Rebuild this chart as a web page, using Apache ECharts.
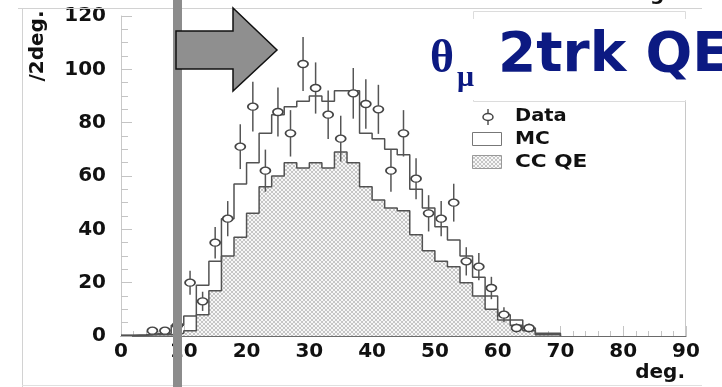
<!DOCTYPE html>
<html>
<head>
<meta charset="utf-8">
<script src="https://cdn.jsdelivr.net/npm/echarts@6/dist/echarts.min.js"></script>
<style>
  html, body { margin: 0; padding: 0; background: #fff; }
  #chart { width: 722px; height: 387px; }
</style>
</head>
<body>
<div id="chart"></div>
<script>
// Muon polar angle, 2-track QE sample: 2-degree bins from 0 to 70 deg
const binEdges = [0, 2, 4, 6, 8, 10, 12, 14, 16, 18, 20, 22, 24, 26, 28, 30, 32, 34,
  36, 38, 40, 42, 44, 46, 48, 50, 52, 54, 56, 58, 60, 62, 64, 66, 68, 70];

// Monte Carlo total (one value per bin)
const mcCounts = [0.3, 0.5, 0.8, 1, 4, 7.5, 19, 28, 44, 57, 65, 76, 83, 86, 88, 90, 88,
  92, 92, 76, 74, 70, 68, 55, 48, 41, 36, 30, 22, 15, 8, 6, 3, 1, 1];

// CC QE component of the Monte Carlo (one value per bin)
const ccqeCounts = [0.2, 0.3, 0.5, 0.5, 1, 2, 8, 17, 30, 37, 46, 56, 60, 65, 63, 65, 63,
  69, 65, 56, 51, 48, 47, 38, 32, 28, 26, 20, 15, 10, 6, 4, 2, 0.5, 0.5];

// Measured events at bin centres, with their statistical errors
const dataAngles = [5, 7, 9, 11, 13, 15, 17, 19, 21, 23, 25, 27, 29, 31, 33, 35, 37, 39,
  41, 43, 45, 47, 49, 51, 53, 55, 57, 59, 61, 63, 65];
const dataCounts = [2, 2, 4, 20, 13, 35, 44, 71, 86, 62, 84, 76, 102, 93, 83, 74, 91, 87,
  85, 62, 76, 59, 46, 44, 50, 28, 26, 18, 8, 3, 3];
const dataErrors = [1.4, 1.4, 2, 4.5, 3.6, 5.9, 6.6, 8.4, 9.3, 7.9, 9.2, 8.7, 10.1, 9.6,
  9.1, 8.6, 9.5, 9.3, 9.2, 7.9, 8.7, 7.7, 6.8, 6.6, 7.1, 5.3, 5.1, 4.2, 2.8, 1.7, 1.7];

// Axis ranges
const xRange = [0, 90];
const xStep = 10;
const yRange = [0, 120];
const yStep = 20;

// step-histogram points: left edge of each bin, closing at zero after the last bin
function stepPoints(counts) {
  return binEdges.map((e, i) => [e, i < counts.length ? counts[i] : 0]);
}

// fine cross-hatch used for the CC QE fill
function crossHatch() {
  const c = document.createElement('canvas');
  c.width = 4; c.height = 4;
  const g = c.getContext('2d');
  g.fillStyle = '#f7f7f7';
  g.fillRect(0, 0, 4, 4);
  g.strokeStyle = '#c6c6c6';
  g.lineWidth = 1;
  g.beginPath();
  g.moveTo(0, 0); g.lineTo(4, 4);
  g.moveTo(4, 0); g.lineTo(0, 4);
  g.stroke();
  return c;
}
const hatch = { image: crossHatch(), repeat: 'repeat' };

const FONT = 'DejaVu Sans';
const histLine = '#525252';

const chart = echarts.init(document.getElementById('chart'), null, { renderer: 'canvas' });

chart.setOption({
  animation: false,
  backgroundColor: '#fff',
  grid: { left: 121, top: 16, width: 565, height: 320 },
  xAxis: {
    type: 'value', min: xRange[0], max: xRange[1], interval: xStep,
    axisLine: { show: true, onZero: false, lineStyle: { color: '#6a6a6a', width: 1.2 } },
    axisTick: { show: true, inside: true, length: 10, lineStyle: { color: '#c4c4c4' } },
    minorTick: { show: true, splitNumber: 5, length: 5, lineStyle: { color: '#c4c4c4' } },
    splitLine: { show: false },
    axisLabel: { margin: 6, color: '#111', fontFamily: FONT, fontWeight: 'bold', fontSize: 20 }
  },
  yAxis: {
    type: 'value', min: yRange[0], max: yRange[1], interval: yStep,
    axisLine: { show: true, lineStyle: { color: '#c8c8c8', width: 1 } },
    axisTick: { show: true, inside: true, length: 11, lineStyle: { color: '#c4c4c4' } },
    minorTick: { show: true, splitNumber: 4, length: 7, lineStyle: { color: '#c4c4c4' } },
    splitLine: { show: false },
    axisLabel: { margin: 15, color: '#111', fontFamily: FONT, fontWeight: 'bold', fontSize: 20 }
  },
  series: [
    {
      name: 'CC QE', type: 'line', step: 'end', symbol: 'none',
      data: stepPoints(ccqeCounts),
      lineStyle: { color: histLine, width: 1.5 },
      areaStyle: { color: hatch, opacity: 1 },
      z: 2
    },
    {
      name: 'MC', type: 'line', step: 'end', symbol: 'none',
      data: stepPoints(mcCounts),
      lineStyle: { color: histLine, width: 1.5 },
      z: 3
    },
    {
      name: 'Data errors', type: 'custom',
      data: dataAngles.map((a, i) => [a, dataCounts[i], dataErrors[i]]),
      encode: { x: 0, y: 1 },
      renderItem: function (params, api) {
        const x = api.value(0), y = api.value(1), e = api.value(2);
        const hi = api.coord([x, y + e]);
        const lo = api.coord([x, Math.max(0, y - e)]);
        return {
          type: 'line',
          shape: { x1: hi[0], y1: hi[1], x2: lo[0], y2: lo[1] },
          style: { stroke: '#555', lineWidth: 1.5 }
        };
      },
      z: 4
    },
    {
      name: 'Data', type: 'scatter',
      data: dataAngles.map((a, i) => [a, dataCounts[i]]),
      symbol: 'circle', symbolSize: [10, 7],
      itemStyle: { color: '#fff', borderColor: '#444', borderWidth: 1.5, opacity: 1 },
      z: 5
    }
  ],
  graphic: [
    // outer page frame
    { type: 'line', shape: { x1: 18, y1: 8.5, x2: 702, y2: 8.5 }, style: { stroke: '#d2d2d2', lineWidth: 1 }, z: 1 },
    { type: 'line', shape: { x1: 22.5, y1: 8.5, x2: 22.5, y2: 387 }, style: { stroke: '#d2d2d2', lineWidth: 1 }, z: 1 },
    { type: 'line', shape: { x1: 22, y1: 385.5, x2: 702, y2: 385.5 }, style: { stroke: '#e0e0e0', lineWidth: 1 }, z: 1 },
    // right edge of the plot frame
    { type: 'line', shape: { x1: 685.5, y1: 16, x2: 685.5, y2: 336 }, style: { stroke: '#c8c8c8', lineWidth: 1 }, z: 1 },
    // statistics box (covered by the title)
    { type: 'rect', shape: { x: 473.5, y: 11.5, width: 212, height: 90 }, style: { fill: '#fff', stroke: '#dcdcdc', lineWidth: 1 }, z: 6 },
    // axis titles
    {
      type: 'text', x: 38, y: 46, rotation: Math.PI / 2,
      style: { text: '/2deg.', x: 0, y: 0, align: 'center', verticalAlign: 'middle',
        font: 'bold 20px "DejaVu Sans"', fill: '#111' }, z: 6
    },
    {
      type: 'text', x: 685, y: 373,
      style: { text: 'deg.', align: 'right', verticalAlign: 'middle',
        font: 'bold 20px "DejaVu Sans"', fill: '#111' }, z: 6
    },
    {
      type: 'text', x: 672, y: -5,
      style: { text: 'deg.', align: 'right', verticalAlign: 'middle',
        font: 'bold 20px "DejaVu Sans"', fill: '#111' }, z: 6
    },
    // legend
    { type: 'line', shape: { x1: 488, y1: 109, x2: 488, y2: 125 }, style: { stroke: '#555', lineWidth: 1.5 }, z: 8 },
    { type: 'ellipse', shape: { cx: 488, cy: 117, rx: 5, ry: 3.5 }, style: { fill: '#fff', stroke: '#444', lineWidth: 1.5 }, z: 8 },
    { type: 'text', x: 515, y: 116, scaleX: 1.08, style: { text: 'Data', verticalAlign: 'middle', font: 'bold 18px "DejaVu Sans"', fill: '#111' }, z: 8 },
    { type: 'rect', shape: { x: 472.5, y: 132.5, width: 29, height: 13 }, style: { fill: '#fff', stroke: '#777', lineWidth: 1 }, z: 8 },
    { type: 'text', x: 515, y: 139, scaleX: 1.12, style: { text: 'MC', verticalAlign: 'middle', font: 'bold 18px "DejaVu Sans"', fill: '#111' }, z: 8 },
    { type: 'rect', shape: { x: 472.5, y: 155.5, width: 29, height: 13 }, style: { fill: hatch, stroke: '#999', lineWidth: 1 }, z: 8 },
    { type: 'text', x: 515, y: 162, scaleX: 1.2, style: { text: 'CC QE', verticalAlign: 'middle', font: 'bold 18px "DejaVu Sans"', fill: '#111' }, z: 8 },
    // cut marker: vertical bar and arrow
    { type: 'rect', shape: { x: 173, y: 0, width: 9, height: 387 }, style: { fill: '#8c8c8c' }, z: 20 },
    {
      type: 'polygon',
      shape: { points: [[176, 31], [233, 31], [233, 8], [277, 50], [233, 91], [233, 69], [176, 69]] },
      style: { fill: '#8f8f8f', stroke: '#111', lineWidth: 1.5 }, z: 21
    },
    // title on a white panel
    { type: 'rect', shape: { x: 413, y: 19, width: 309, height: 81 }, style: { fill: '#fff' }, z: 30 },
    {
      type: 'text', x: 430, y: 60,
      style: { text: 'θ', verticalAlign: 'middle', font: 'bold 46px "Liberation Serif"', fill: '#0c1a82' }, z: 31
    },
    {
      type: 'text', x: 457, y: 78,
      style: { text: 'μ', verticalAlign: 'middle', font: 'bold 30px "Liberation Serif"', fill: '#0c1a82' }, z: 31
    },
    {
      type: 'text', x: 498, y: 57,
      style: { text: '2trk QE', verticalAlign: 'middle', font: 'bold 55px "DejaVu Sans"', fill: '#0c1a82' }, z: 31
    }
  ]
});
</script>
</body>
</html>
